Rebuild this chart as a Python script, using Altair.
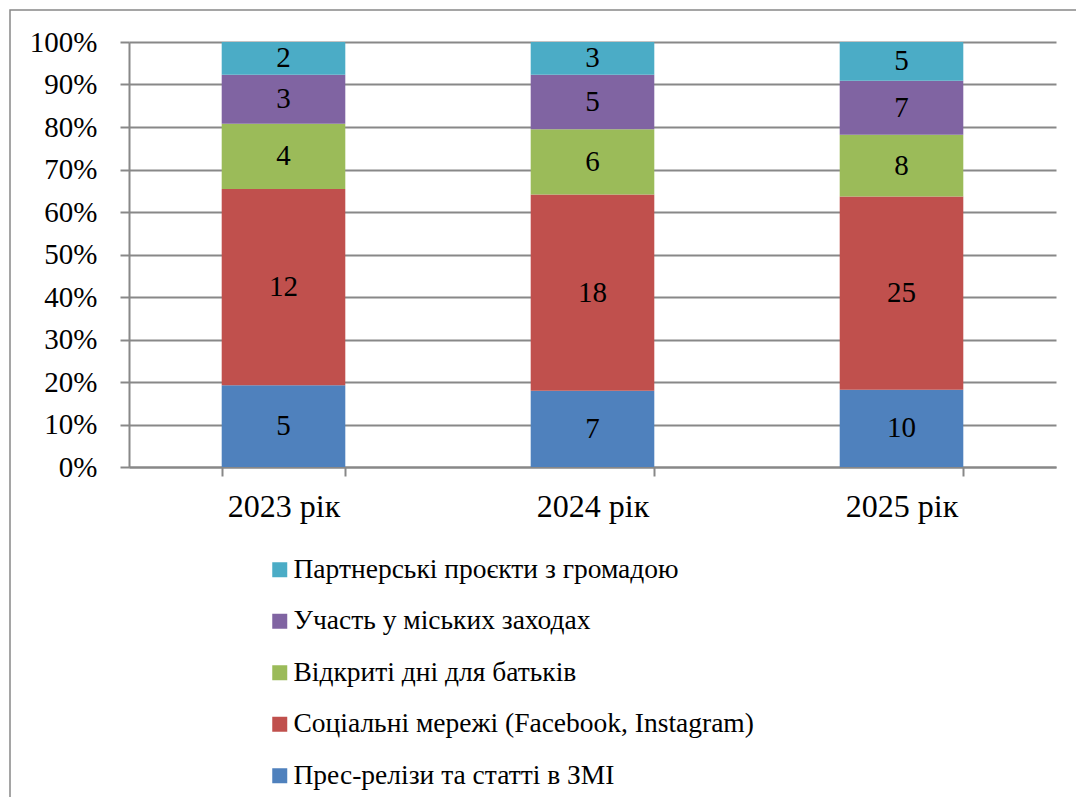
import altair as alt
import pandas as pd

years = ["2023 рік", "2024 рік", "2025 рік"]
categories = [
    "Партнерські проєкти з громадою",
    "Участь у міських заходах",
    "Відкриті дні для батьків",
    "Соціальні мережі (Facebook, Instagram)",
    "Прес-релізи та статті в ЗМІ",
]
colors = ["#4BACC6", "#8064A2", "#9BBB59", "#C0504D", "#4F81BD"]
# values per category, in order of years
partner = [2, 3, 5]
city = [3, 5, 7]
open_days = [4, 6, 8]
social = [12, 18, 25]
press = [5, 7, 10]

series = [partner, city, open_days, social, press]
rows = []
for ci, (cat, vals) in enumerate(zip(categories, series)):
    for yi, yr in enumerate(years):
        rows.append({"year": yr, "cat": cat, "value": vals[yi], "order": len(categories) - ci})
df = pd.DataFrame(rows)

FONT = "'Times New Roman', 'Liberation Serif', serif"
GRAY = "#888888"

base = alt.Chart(df).transform_stack(
    stack="value", as_=["y0", "y1"], groupby=["year"], offset="normalize",
    sort=[alt.SortField("order", order="ascending")]
).transform_calculate(ym="(datum.y0 + datum.y1) / 2")

x_enc = alt.X(
    "year:N", sort=years, title=None,
    scale=alt.Scale(paddingInner=0.6, paddingOuter=0.3),
    axis=alt.Axis(labelAngle=0, labelFont=FONT, labelFontSize=32, labelColor="black",
                  domainColor=GRAY, domainWidth=2, tickColor=GRAY, tickWidth=2,
                  tickSize=9, tickBand="extent", labelPadding=15, grid=False),
)

bars = base.mark_bar().encode(
    x=x_enc,
    y=alt.Y("y0:Q", title=None, scale=alt.Scale(domain=[0, 1]),
            axis=alt.Axis(format="%", values=[i / 10 for i in range(11)], labelFont=FONT,
                          labelFontSize=29, labelColor="black", domainColor=GRAY,
                          domainWidth=2, tickColor=GRAY, tickWidth=2, tickSize=9,
                          labelPadding=23, gridColor=GRAY, gridWidth=2)),
    y2="y1:Q",
    color=alt.Color("cat:N", scale=alt.Scale(domain=categories, range=colors),
                    legend=alt.Legend(title=None, orient="none", legendX=137, legendY=514,
                                      symbolType="square", symbolSize=225, symbolStrokeWidth=0,
                                      labelFont=FONT, labelFontSize=27.5, labelColor="black",
                                      labelLimit=0, rowPadding=22.5, labelOffset=0)),
    order=alt.Order("order:Q"),
)

labels = base.mark_text(font=FONT, fontSize=29, color="black", baseline="middle").encode(
    x=alt.X("year:N", sort=years),
    y=alt.Y("ym:Q"),
    text="value:Q",
)

frame = alt.Chart(pd.DataFrame({"a": [0]})).mark_rect(
    fill=None, stroke=GRAY, strokeWidth=1.5, clip=False
).encode(
    x=alt.value(-119), x2=alt.value(975), y=alt.value(-32), y2=alt.value(780)
)

chart = alt.layer(frame, bars, labels).properties(
    width=927, height=425,
    autosize=alt.AutoSizeParams(type="none"),
    padding={"left": 121, "top": 34, "right": 20, "bottom": 330},
).configure(font=FONT).configure_view(stroke=None)

chart.save("out.html", embed_options={"renderer": "svg", "actions": False})
